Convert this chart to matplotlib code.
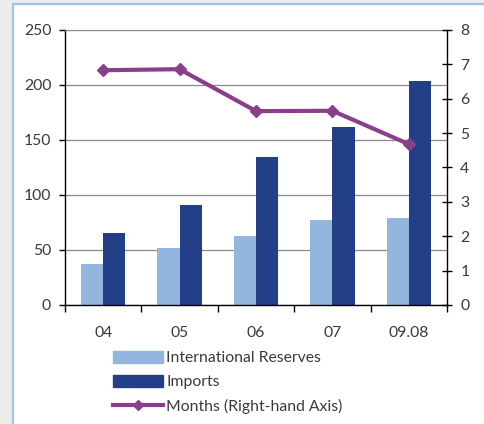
import matplotlib
matplotlib.use("Agg")
import matplotlib.pyplot as plt
import numpy as np
from matplotlib.patches import Rectangle
from matplotlib.lines import Line2D

# Data (billion USD, months of import cover)
years = ["04", "05", "06", "07", "09.08"]
reserves = [37.5, 52, 63, 77, 79]
imports = [65.5, 91, 134.5, 162, 203.5]
months = [6.83, 6.86, 5.64, 5.65, 4.68]

c_res = "#92b6dd"
c_imp = "#233f87"
c_mon = "#8a3f8a"
txt = "#3a3a3a"
fs = 11.3

plt.rcParams['font.family'] = ['Lato', 'DejaVu Sans']

fig = plt.figure(figsize=(4.84, 4.24), dpi=100)
fig.patch.set_facecolor("#ececec")

# white panel with light blue frame
W, H = 484, 424
fig.patches.append(Rectangle((12.5 / W, -0.1), 1.2, 1 - 4.5 / H + 0.1,
                             transform=fig.transFigure, facecolor="white",
                             edgecolor="#9fc4e8", linewidth=1.6, zorder=-10))

ax = fig.add_axes([65 / W, (H - 305) / H, 382 / W, 275 / H])
ax.set_facecolor("none")
x = np.arange(len(years))
bw = 0.29

ax.bar(x - bw / 2, reserves, bw, color=c_res, zorder=2)
ax.bar(x + bw / 2, imports, bw, color=c_imp, zorder=2)

ax.set_xlim(-0.5, 4.5)
ax.set_ylim(0, 250)
ax.set_yticks(range(0, 251, 50))
ax.yaxis.grid(True, color="#8a8a8a", linewidth=0.9, zorder=1)
ax.set_axisbelow(True)

ax.set_xticks(x)
ax.set_xticklabels(years)
ax.set_xticks(np.arange(-0.5, 4.6, 1), minor=True)
ax.tick_params(axis="x", which="major", length=0, pad=15, labelsize=fs, labelcolor=txt)
ax.tick_params(axis="x", which="minor", length=5, width=1, direction="out", color="black")
ax.tick_params(axis="y", length=4, width=1, direction="out", pad=6, labelsize=fs,
               labelcolor=txt, color="black")

for s in ["left", "bottom"]:
    ax.spines[s].set_color("black")
    ax.spines[s].set_linewidth(1)
ax.spines["top"].set_color("#8a8a8a")
ax.spines["right"].set_visible(False)

ax2 = ax.twinx()
ax2.plot(x, months, color=c_mon, linewidth=3, marker="D", markersize=6, zorder=3)
ax2.set_ylim(0, 8)
ax2.set_yticks(range(0, 9))
ax2.tick_params(axis="y", length=7, width=1, direction="inout", pad=6, labelsize=fs,
                labelcolor=txt, color="black")
for s in ["left", "top", "bottom"]:
    ax2.spines[s].set_visible(False)
ax2.spines["right"].set_color("black")
ax2.spines["right"].set_linewidth(1)

handles = [Rectangle((0, 0), 1, 1, color=c_res),
           Rectangle((0, 0), 1, 1, color=c_imp),
           Line2D([], [], color=c_mon, linewidth=3, marker="D", markersize=5)]
labels = ["International Reserves", "Imports", "Months (Right-hand Axis)"]
leg = fig.legend(handles, labels, loc="upper left", bbox_to_anchor=(113 / W, 1 - 351 / H),
                 frameon=False, fontsize=fs, handlelength=3.2, handleheight=0.8,
                 handletextpad=0.2, labelspacing=0.6, borderpad=0, borderaxespad=0)
for t in leg.get_texts():
    t.set_color(txt)

fig.savefig("out.png", dpi=100)
